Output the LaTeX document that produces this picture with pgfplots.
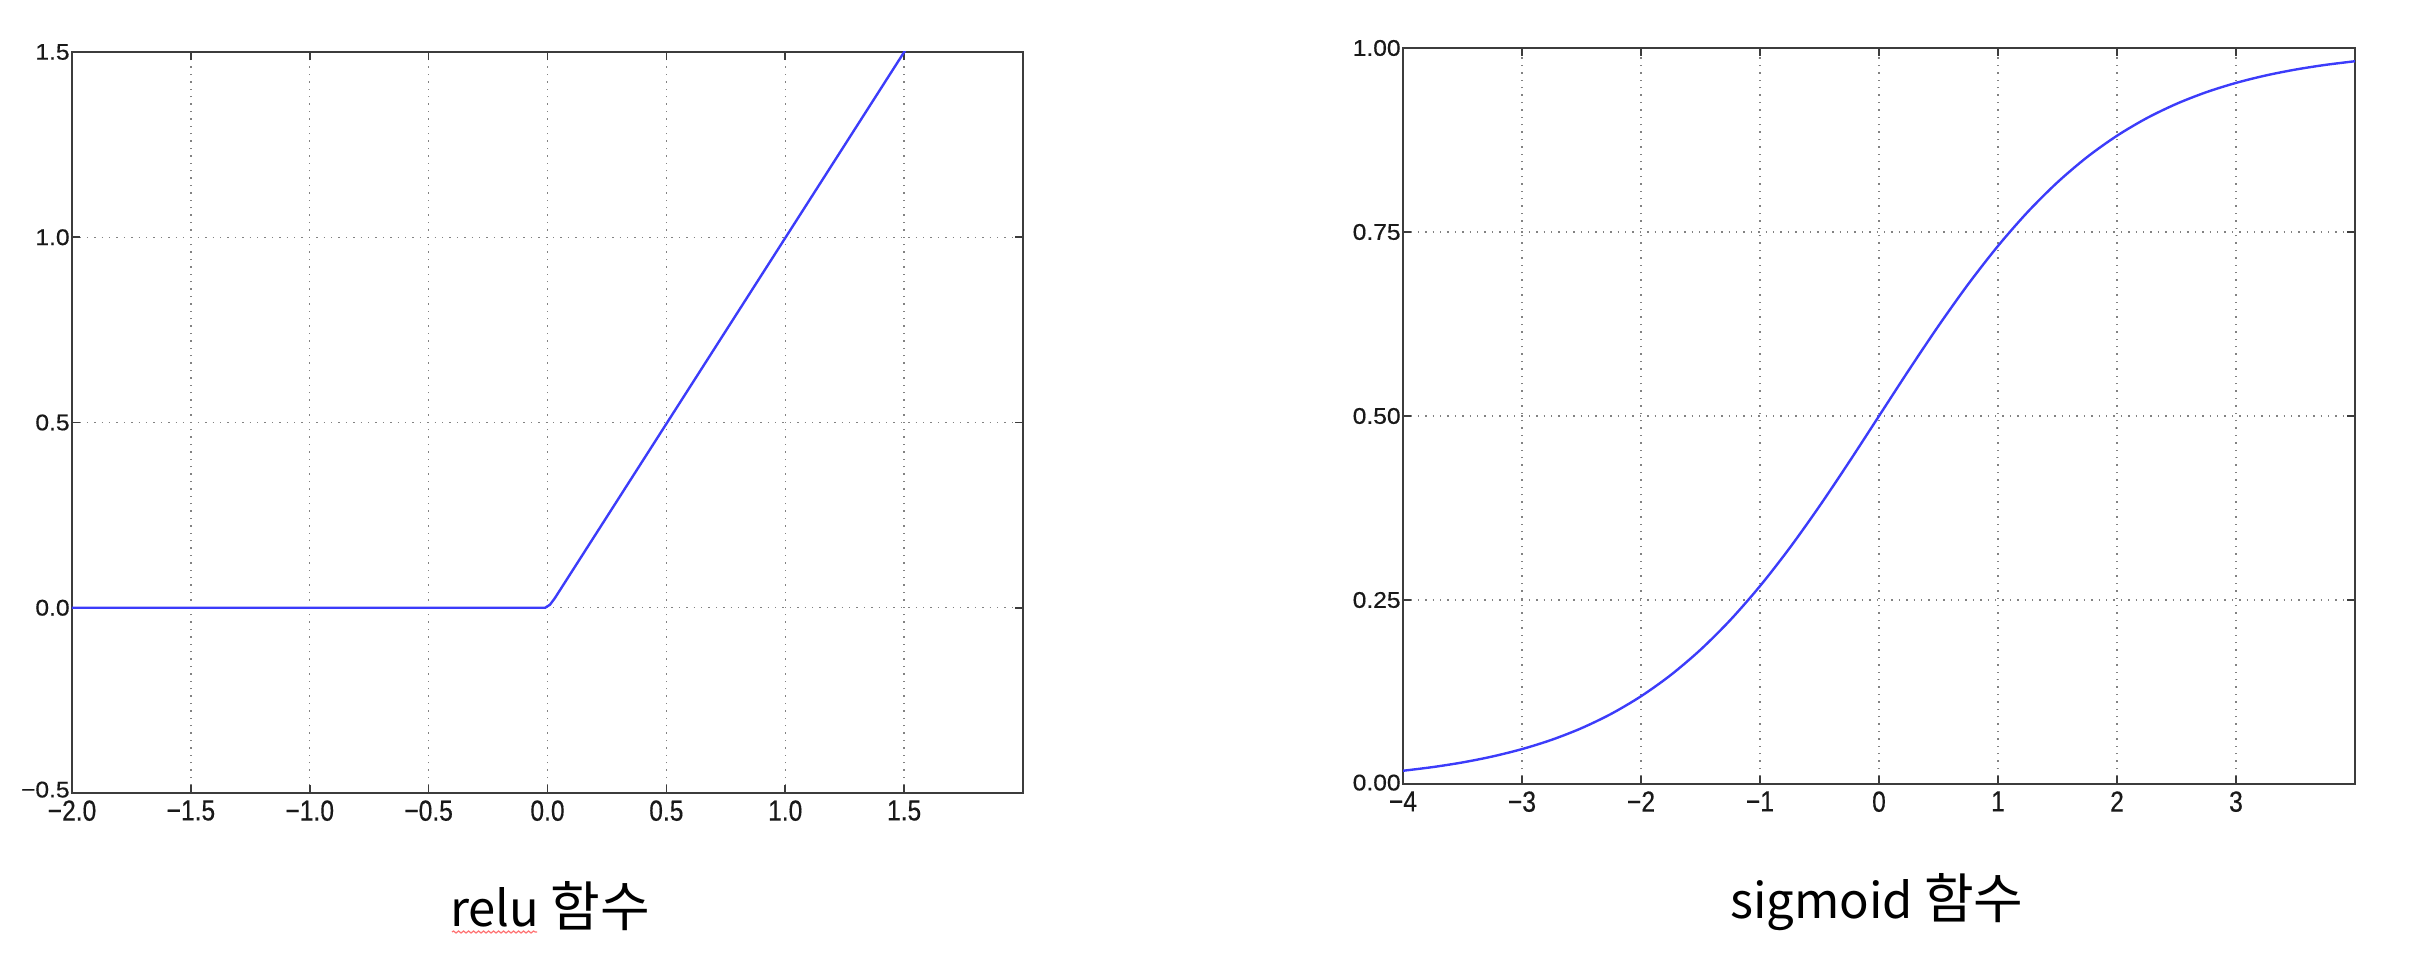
\documentclass[border=0pt]{standalone}
\usepackage{fontspec}
\setmainfont{Liberation Sans}
\newfontfamily\tickfont[FakeBold=0.5]{Liberation Sans}
\newfontfamily\kr{Noto Sans CJK KR}
\usepackage{graphicx}
\usepackage{pgfplots}
\pgfplotsset{compat=1.18}
\usetikzlibrary{decorations.pathmorphing}
\definecolor{curve}{RGB}{60,60,250}
\definecolor{frame}{RGB}{60,60,60}
\definecolor{gridc}{RGB}{130,130,130}
\newcommand{\xl}[1]{\scalebox{1}[1.18]{#1}}
\newcommand{\yl}[1]{\scalebox{1}[0.92]{#1}}
\pgfplotsset{
  mystyle/.style={
    scale only axis,
    axis line style={frame, line width=1.4pt},
    tick style={frame, line width=0.8pt},
    major tick length=4pt,
    tick align=inside,
    grid=major,
    major grid style={gridc, line width=0.7pt, dash pattern=on 0.7pt off 3pt},
    tick label style={font=\tickfont\fontsize{12.3}{14}\selectfont, text=black!90},
    yticklabel style={inner sep=0pt, anchor=east, xshift=-1pt},
    xticklabel style={inner sep=0pt, anchor=north, yshift=-3.5pt},
  }
}
\begin{document}
\begin{tikzpicture}
\path[use as bounding box] (0,0) rectangle (1210.5pt,482pt);
\begin{axis}[mystyle, at={(36pt,85.5pt)}, anchor=south west,
  width=475.5pt, height=370.5pt,
  xmin=-2, xmax=2, ymin=-0.5, ymax=1.5,
  xtick={-2,-1.5,-1,-0.5,0,0.5,1,1.5},
  xticklabels={\xl{−2.0},\xl{−1.5},\xl{−1.0},\xl{−0.5},\xl{0.0},\xl{0.5},\xl{1.0},\xl{1.5}},
  ytick={-0.5,0,0.5,1,1.5},
  yticklabels={\raisebox{3.5pt}{\yl{−0.5}},\yl{0.0},\yl{0.5},\yl{1.0},\yl{1.5}}]
\addplot[curve, line width=1.2pt, line join=round] coordinates {(-2,0) (-0.01,0) (0.01,0.008) (0.03,0.025) (1.6,1.6)};
\end{axis}
\begin{axis}[mystyle, at={(701.5pt,90pt)}, anchor=south west,
  width=476pt, height=368pt,
  xmin=-4, xmax=4, ymin=0, ymax=1,
  xtick={-4,-3,-2,-1,0,1,2,3},
  xticklabels={\xl{−4},\xl{−3},\xl{−2},\xl{−1},\xl{0},\xl{1},\xl{2},\xl{3}},
  ytick={0,0.25,0.5,0.75,1},
  yticklabels={\raisebox{1.5pt}{\yl{0.00}},\yl{0.25},\yl{0.50},\yl{0.75},\yl{1.00}}]
\addplot[curve, line width=1.2pt, smooth] coordinates {
(-4,0.01799) (-3.75,0.02298) (-3.5,0.02931) (-3.25,0.03733) (-3,0.04743)
(-2.75,0.06007) (-2.5,0.07586) (-2.25,0.09535) (-2,0.11920) (-1.75,0.14805)
(-1.5,0.18243) (-1.25,0.22270) (-1,0.26894) (-0.75,0.32082) (-0.5,0.37754)
(-0.25,0.43782) (0,0.5) (0.25,0.56218) (0.5,0.62246) (0.75,0.67918)
(1,0.73106) (1.25,0.77730) (1.5,0.81757) (1.75,0.85195) (2,0.88080)
(2.25,0.90465) (2.5,0.92414) (2.75,0.93993) (3,0.95257) (3.25,0.96267)
(3.5,0.97069) (3.75,0.97702) (4,0.98201)};
\end{axis}
\node[anchor=base, inner sep=0pt] at (275pt,18.5pt) {\kr\fontsize{24.5}{27}\selectfont relu {\fontsize{27}{29}\selectfont 함수}};
\draw[decorate, decoration={snake, amplitude=0.5pt, segment length=2.5pt}, color=red!55, line width=0.6pt] (226pt,16pt) -- (268.5pt,16pt);
\node[anchor=base, inner sep=0pt] at (938.5pt,22.5pt) {\kr\fontsize{24.5}{27}\selectfont sigmoid {\fontsize{27}{29}\selectfont 함수}};
\end{tikzpicture}
\end{document}
